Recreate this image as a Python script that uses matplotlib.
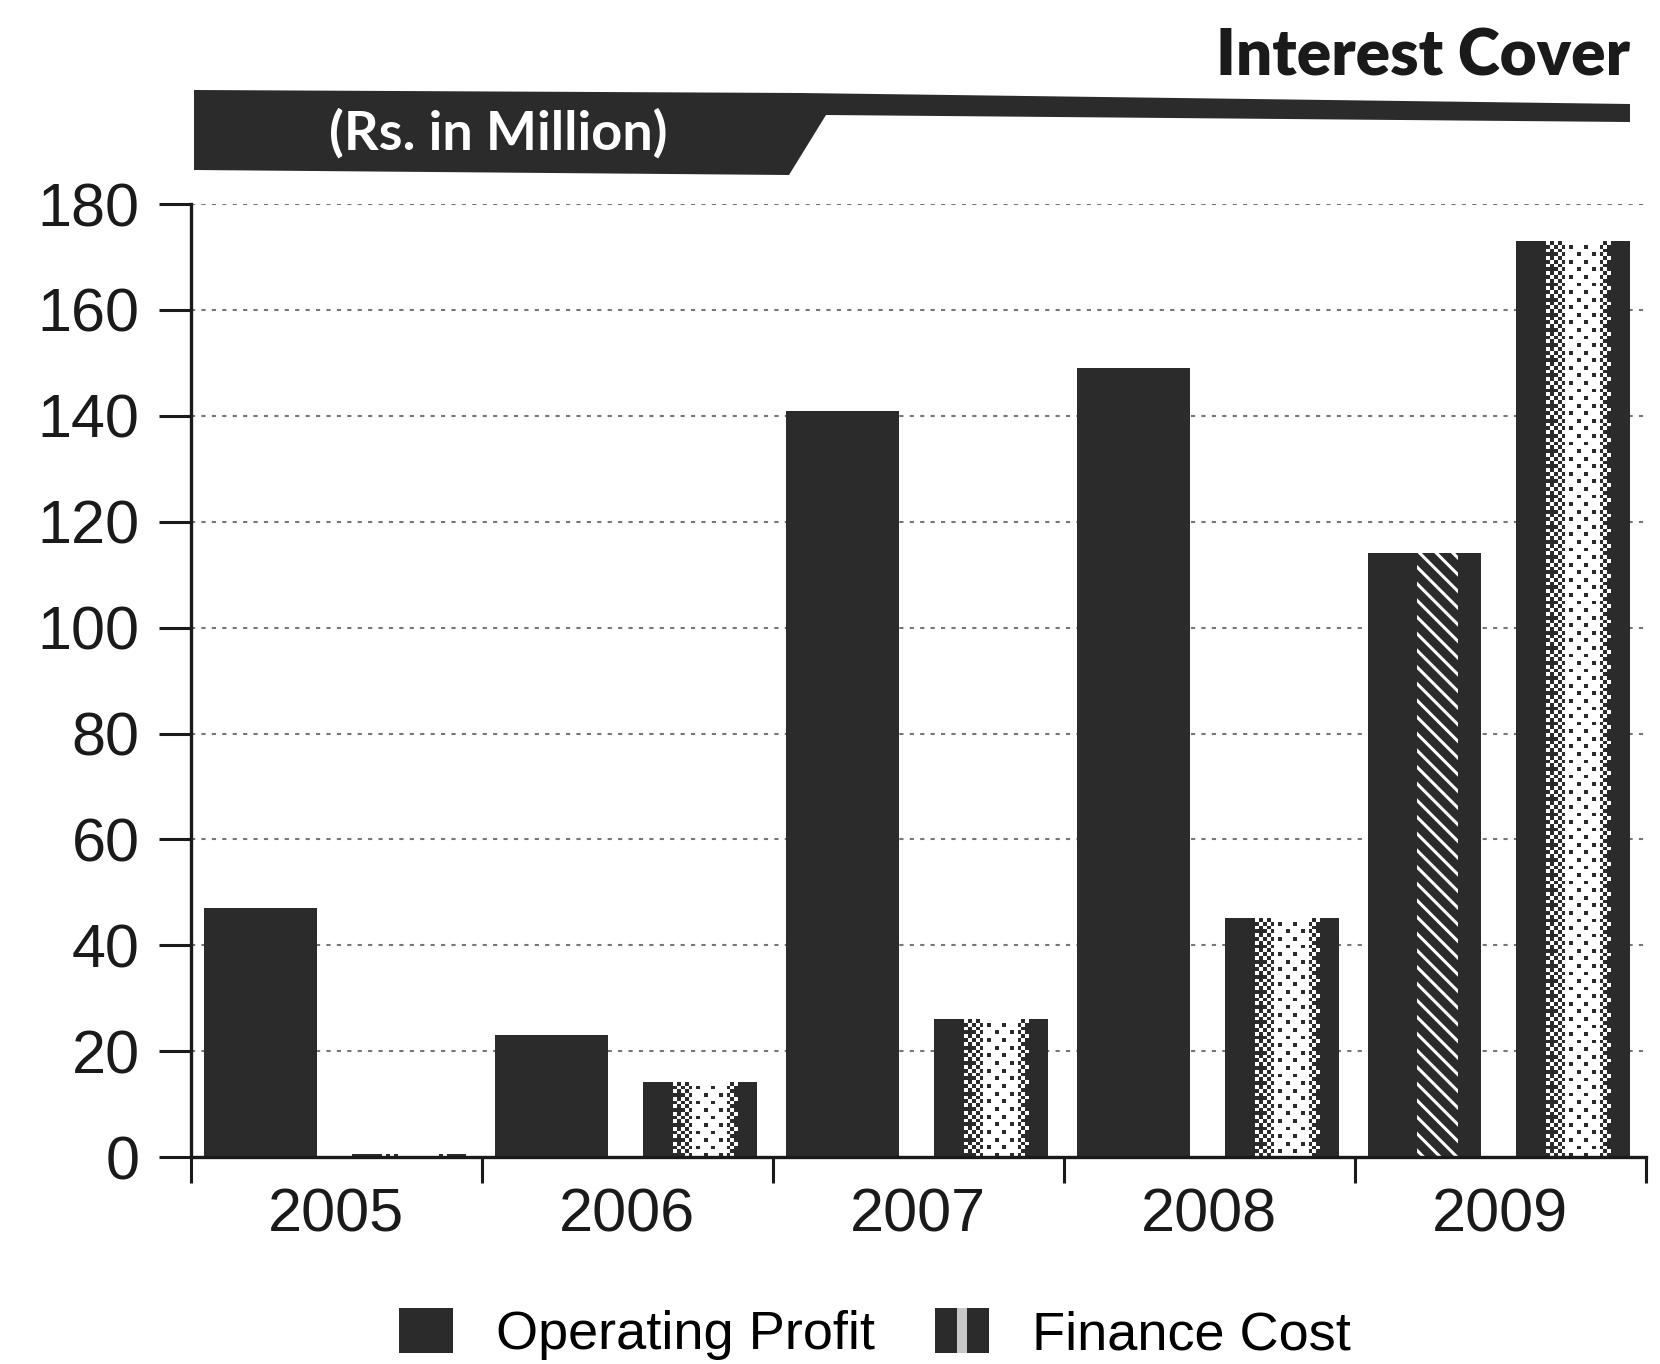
import numpy as np
import matplotlib
matplotlib.use("Agg")
import matplotlib.pyplot as plt
from matplotlib.colors import ListedColormap
from matplotlib.patches import Polygon, Rectangle
from matplotlib.legend_handler import HandlerBase

# data (Rs. in Million)
years = ["2005", "2006", "2007", "2008", "2009"]
operating_profit = [47, 23, 141, 149, 114]
finance_cost = [0.5, 14, 26, 45, 173]
op_hatched = [False, False, False, False, True]
y_ticks = [0, 20, 40, 60, 80, 100, 120, 140, 160, 180]

DARK = "#2b2b2b"
plt.rcParams["font.family"] = ["Liberation Sans", "DejaVu Sans"]
plt.rcParams["hatch.linewidth"] = 2.2

fig = plt.figure(figsize=(16.6, 13.64), dpi=100)
ax = fig.add_axes([0.115, 0.1517, 0.8765, 0.6987])

x = np.arange(len(years))
w = 0.39
op_bars = ax.bar(x - 0.26, operating_profit, w, color=DARK, zorder=3)
fc_bars = ax.bar(x + 0.25, finance_cost, w, color=DARK, zorder=3)

# halftone look for finance cost bars: ordered dither of a brightness profile
bayer = np.array([[0, 8, 2, 10], [12, 4, 14, 6], [3, 11, 1, 9], [15, 7, 13, 5]]) / 16 + 1 / 32
def profile(u):
    return np.interp(u, [0, 0.2, 0.5, 0.73, 0.84, 1.0], [0, 0, 0.9, 0.9, 0, 0])

cmap = ListedColormap([DARK, "white"])
for bar in fc_bars:
    h = bar.get_height()
    x0 = bar.get_x()
    x1 = x0 + bar.get_width()
    cols = 30
    rows = max(1, int(round(h * 1.4)))
    u = (np.arange(cols) + 0.5) / cols
    thr = np.tile(bayer, (rows // 4 + 1, cols // 4 + 1))[:rows, :cols]
    img = (profile(u)[None, :] > thr).astype(float)
    ax.imshow(img, extent=(x0, x1, 0, h), aspect="auto", cmap=cmap,
              vmin=0, vmax=1, interpolation="nearest", zorder=4)

# diagonal hatch band on the hatched operating profit bars
for bar, hatched in zip(op_bars, op_hatched):
    if hatched:
        bw = bar.get_width()
        ax.add_patch(Rectangle((bar.get_x() + 0.43 * bw, 0), 0.36 * bw, bar.get_height(),
                               facecolor="none", edgecolor="white", hatch="\\\\",
                               linewidth=0, zorder=4))

ax.set_xlim(-0.5, len(years) - 0.5)
ax.set_ylim(0, 180)

# axes styling
for side in ["top", "right"]:
    ax.spines[side].set_visible(False)
for side in ["left", "bottom"]:
    ax.spines[side].set_linewidth(2.4)
    ax.spines[side].set_color("#1a1a1a")
ax.spines["bottom"].set_zorder(5)

ax.set_yticks(y_ticks)
ax.tick_params(axis="y", direction="out", length=23, width=2.2, pad=14,
               labelsize=44, colors="#1a1a1a")
ax.set_xticks(x)
ax.set_xticklabels(years)
ax.set_xticks(np.arange(len(years) + 1) - 0.5, minor=True)
ax.tick_params(axis="x", which="major", length=0, pad=22, labelsize=44, colors="#1a1a1a")
ax.tick_params(axis="x", which="minor", direction="out", length=19, width=2.2, color="#1a1a1a")

ax.yaxis.grid(True, linestyle=(0, (2, 3)), color="#777777", linewidth=1.5, zorder=0)
ax.set_axisbelow(True)

# header banner
def fp(px, py):
    return (px / 1660, 1 - py / 1364)

banner = [fp(194, 90), fp(800, 93), fp(1630, 104), fp(1630, 122), fp(826, 115),
          fp(789, 175), fp(194, 170)]
fig.patches.append(Polygon(banner, closed=True, transform=fig.transFigure,
                           facecolor=DARK, edgecolor="none"))
fig.text(0.3, 0.902, "(Rs. in Million)", color="white", fontsize=39,
         fontweight="bold", family=["Lato", "DejaVu Sans"], ha="center", va="center")
fig.text(0.982, 0.958, "Interest Cover", color="#1a1a1a", fontsize=46,
         fontweight="heavy", family=["Lato", "DejaVu Sans"], ha="right", va="center")

# legend
class StripeHandler(HandlerBase):
    def create_artists(self, legend, orig_handle, xdescent, ydescent, width, height,
                       fontsize, trans):
        parts = [(0.0, 0.42, DARK), (0.42, 0.6, "#c8c8c8"), (0.6, 1.0, DARK)]
        return [Rectangle((-xdescent + a * width, -ydescent), (b - a) * width, height,
                          facecolor=c, edgecolor="none", transform=trans)
                for a, b, c in parts]

op_handle = Rectangle((0, 0), 1, 1, facecolor=DARK)
fc_handle = Rectangle((0, 0), 1, 1, facecolor=DARK)
fig.legend([op_handle, fc_handle], ["Operating Profit", "Finance Cost"],
           handler_map={fc_handle: StripeHandler()}, loc="center",
           bbox_to_anchor=(0.527, 0.022), ncol=2, frameon=False, fontsize=39,
           handlelength=1.0, handleheight=0.9, handletextpad=0.8, columnspacing=1.1)

fig.savefig("out.png", dpi=100, facecolor="white")
